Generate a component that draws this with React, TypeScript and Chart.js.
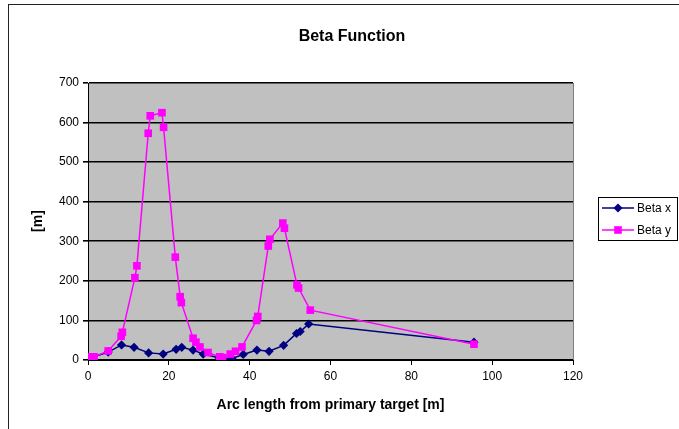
import React, { useEffect, useRef } from "react";
import { Chart, registerables } from "chart.js";

Chart.register(...registerables);

const CHART_TITLE = "Beta Function";
const X_TITLE = "Arc length from primary target [m]";
const Y_TITLE = "[m]";
const SERIES_X_NAME = "Beta x";
const SERIES_Y_NAME = "Beta y";

// Horizontal beta function along the line
const betaXPos = [0.5, 5.0, 8.3, 11.4, 15.0, 18.6, 21.8, 23.2, 26.0, 28.5, 32.5, 35.6, 38.4, 41.8, 44.8, 48.4, 51.6, 52.5, 54.6, 95.5];
const betaXVal = [5, 20, 38, 32, 18, 15, 27, 32, 25, 15, 5, 4, 14, 25, 22, 37, 67, 72, 91, 45];

// Vertical beta function along the line
const betaYPos = [0.5, 1.5, 5.0, 8.2, 8.5, 11.6, 12.1, 14.9, 15.4, 18.3, 18.7, 21.6, 22.8, 23.1, 26.0, 26.7, 27.7, 29.7, 32.6, 33.3, 35.2, 36.5, 38.1, 41.7, 42.0, 44.6, 45.0, 48.2, 48.6, 51.7, 52.1, 55.0, 95.5];
const betaYVal = [8, 8, 23, 60, 70, 208, 238, 573, 617, 625, 588, 260, 160, 145, 55, 45, 33, 19, 8, 6, 15, 22, 33, 100, 110, 288, 305, 346, 333, 190, 182, 126, 40];

const X_MIN = 0;
const X_MAX = 120;
const X_STEP = 20;
const Y_MIN = 0;
const Y_MAX = 700;
const Y_STEP = 100;

const NAVY = "#000080";
const MAGENTA = "#FF00FF";
const PLOT_BG = "#C0C0C0";
const FONT = "'Liberation Sans', Arial, sans-serif";

const toPoints = (xs: number[], ys: number[]) => xs.map((x, i) => ({ x, y: ys[i] }));

function drawDiamond(ctx: CanvasRenderingContext2D, x: number, y: number, r: number, color: string) {
  ctx.beginPath();
  ctx.moveTo(x, y - r);
  ctx.lineTo(x + r, y);
  ctx.lineTo(x, y + r);
  ctx.lineTo(x - r, y);
  ctx.closePath();
  ctx.fillStyle = color;
  ctx.fill();
}

function drawSquare(ctx: CanvasRenderingContext2D, x: number, y: number, half: number, color: string) {
  ctx.fillStyle = color;
  ctx.fillRect(x - half, y - half, half * 2, half * 2);
}

// Plot background, outer frame, titles and the boxed legend
const decorPlugin = {
  id: "decor",
  beforeDraw(chart: any) {
    const { ctx, chartArea } = chart;
    ctx.save();
    ctx.fillStyle = PLOT_BG;
    ctx.fillRect(chartArea.left, chartArea.top, chartArea.right - chartArea.left, chartArea.bottom - chartArea.top);
    ctx.restore();
  },
  afterDraw(chart: any) {
    const { ctx, chartArea } = chart;
    ctx.save();

    // right edge of the plot area
    ctx.strokeStyle = "#808080";
    ctx.lineWidth = 1;
    ctx.beginPath();
    ctx.moveTo(Math.round(chartArea.right) + 0.5, chartArea.top);
    ctx.lineTo(Math.round(chartArea.right) + 0.5, chartArea.bottom);
    ctx.stroke();

    // chart frame
    ctx.strokeStyle = "#222";
    ctx.lineWidth = 1;
    ctx.strokeRect(8.5, 4.5, 720, 480);

    // titles
    ctx.fillStyle = "#000";
    ctx.textAlign = "center";
    ctx.textBaseline = "middle";
    ctx.font = `bold 16px ${FONT}`;
    ctx.fillText(CHART_TITLE, 352, 37);

    ctx.font = `bold 14px ${FONT}`;
    ctx.fillText(X_TITLE, (chartArea.left + chartArea.right) / 2, 405);

    ctx.save();
    ctx.translate(38, 221);
    ctx.rotate(-Math.PI / 2);
    ctx.fillText(Y_TITLE, 0, 0);
    ctx.restore();

    // legend
    const lx = 598.5;
    const ly = 197.5;
    ctx.fillStyle = "#fff";
    ctx.fillRect(lx, ly, 79, 43);
    ctx.strokeStyle = "#000";
    ctx.lineWidth = 1;
    ctx.strokeRect(lx, ly, 79, 43);

    const rows = [
      { name: SERIES_X_NAME, color: NAVY, y: 208, kind: "diamond" },
      { name: SERIES_Y_NAME, color: MAGENTA, y: 230, kind: "square" },
    ];
    for (const row of rows) {
      ctx.strokeStyle = row.color;
      ctx.lineWidth = 1.5;
      ctx.beginPath();
      ctx.moveTo(602, row.y);
      ctx.lineTo(634, row.y);
      ctx.stroke();
      if (row.kind === "diamond") drawDiamond(ctx, 618, row.y, 4.5, row.color);
      else drawSquare(ctx, 618, row.y, 3.8, row.color);
      ctx.fillStyle = "#000";
      ctx.textAlign = "left";
      ctx.textBaseline = "middle";
      ctx.font = `12px ${FONT}`;
      ctx.fillText(row.name, 637, row.y + 1);
    }
    ctx.restore();
  },
};

export default function App() {
  const canvasRef = useRef<HTMLCanvasElement | null>(null);

  useEffect(() => {
    const canvas = canvasRef.current;
    if (!canvas) return;
    const chart = new Chart(canvas, {
      type: "line",
      data: {
        datasets: [
          {
            label: SERIES_Y_NAME,
            data: toPoints(betaYPos, betaYVal),
            borderColor: MAGENTA,
            backgroundColor: MAGENTA,
            borderWidth: 1.5,
            pointStyle: "rect",
            pointRadius: 5.4,
            pointBorderWidth: 0,
            pointBackgroundColor: MAGENTA,
            tension: 0,
            order: 0,
          },
          {
            label: SERIES_X_NAME,
            data: toPoints(betaXPos, betaXVal),
            borderColor: NAVY,
            backgroundColor: NAVY,
            borderWidth: 1.5,
            pointStyle: "rectRot",
            pointRadius: 4.6,
            pointBorderWidth: 0,
            pointBackgroundColor: NAVY,
            tension: 0,
            order: 1,
          },
        ],
      },
      options: {
        responsive: false,
        animation: false,
        devicePixelRatio: 1,
        layout: { padding: { left: 48, top: 83, right: 106, bottom: 0 } },
        plugins: {
          legend: { display: false },
          title: { display: false },
          tooltip: { enabled: false },
        },
        scales: {
          x: {
            type: "linear",
            min: X_MIN,
            max: X_MAX,
            afterFit: (scale: any) => {
              scale.height = 69;
            },
            ticks: {
              stepSize: X_STEP,
              color: "#000",
              padding: 4,
              maxRotation: 0,
              font: { family: FONT, size: 12 },
            },
            grid: {
              drawOnChartArea: false,
              drawTicks: true,
              tickLength: 5,
              color: "#000",
            },
            border: { display: true, color: "#000", width: 1 },
          },
          y: {
            type: "linear",
            min: Y_MIN,
            max: Y_MAX,
            afterFit: (scale: any) => {
              scale.width = 40;
            },
            ticks: {
              stepSize: Y_STEP,
              color: "#000",
              padding: 4,
              font: { family: FONT, size: 12 },
            },
            grid: {
              drawOnChartArea: true,
              drawTicks: true,
              tickLength: 5,
              color: "#000",
              lineWidth: 1.6,
            },
            border: { display: true, color: "#000", width: 1 },
          },
        },
      },
      plugins: [decorPlugin],
    } as any);
    return () => chart.destroy();
  }, []);

  return (
    <div style={{ position: "fixed", left: 0, top: 0, width: 679, height: 429, background: "#fff" }}>
      <canvas ref={canvasRef} width={679} height={429} style={{ display: "block" }} />
    </div>
  );
}
